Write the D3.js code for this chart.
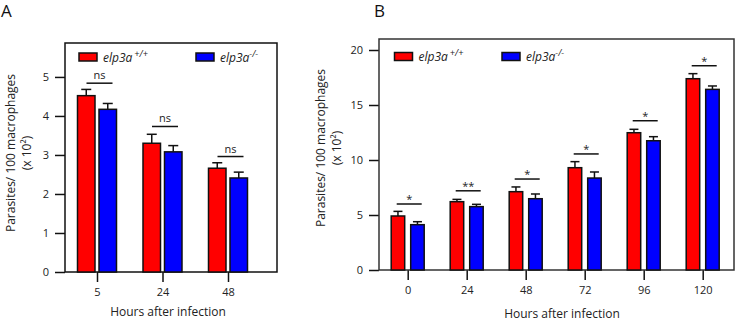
<!DOCTYPE html>
<html>
<head>
<meta charset="utf-8">
<script src="https://cdn.jsdelivr.net/npm/d3@7"></script>
<style>
  body { margin: 0; background: #fff; }
  svg { display: block; font-family: "Open Sans", sans-serif; }
</style>
</head>
<body>
<script>
var w = 735;
var h = 321;

// ---- panel A data ----
var catsA = ["5", "24", "48"];
var wtA = [4.52, 3.30, 2.66];
var wtErrA = [0.16, 0.23, 0.14];
var koA = [4.17, 3.08, 2.41];
var koErrA = [0.15, 0.16, 0.15];
var sigA = ["ns", "ns", "ns"];
var sigLevelA = [4.84, 3.73, 2.96];
var ticksA = [0, 1, 2, 3, 4, 5];

// ---- panel B data ----
var catsB = ["0", "24", "48", "72", "96", "120"];
var wtB = [4.91, 6.21, 7.12, 9.30, 12.48, 17.39];
var wtErrB = [0.42, 0.21, 0.43, 0.55, 0.31, 0.46];
var koB = [4.12, 5.76, 6.48, 8.36, 11.75, 16.42];
var koErrB = [0.27, 0.21, 0.43, 0.55, 0.37, 0.31];
var sigB = ["*", "**", "*", "*", "*", "*"];
var sigLevelB = [6.0, 7.2, 8.27, 10.55, 13.57, 18.57];
var ticksB = [0, 5, 10, 15, 20];

var svg = d3.select("body").append("svg")
    .attr("width", w)
    .attr("height", h);

drawPanel({
    label: "A", labelX: 1, labelY: 17,
    left: 65, right: 277, top: 43, bottom: 272,
    yMax: 5.87, xFirst: 97, xLast: 228,
    barW: 17.5, redOff: -19.5, blueOff: 2, capW: 10, sigOff: 2.5, sigW: 26,
    cats: catsA, wt: wtA, wtErr: wtErrA, ko: koA, koErr: koErrA,
    sig: sigA, sigLevel: sigLevelA, ticks: ticksA,
    legRedX: 79, legBlueX: 196, legY: 53,
    titleX: 15, titleY: 153, xTitleX: 168, xTitleY: 316,
    frame: "#111"
});

drawPanel({
    label: "B", labelX: 374, labelY: 17,
    left: 379, right: 734, top: 39, bottom: 270,
    yMax: 21, xFirst: 407.7, xLast: 702.7,
    barW: 13.5, redOff: -16.5, blueOff: 3, capW: 9, sigOff: 1.5, sigW: 25,
    cats: catsB, wt: wtB, wtErr: wtErrB, ko: koB, koErr: koErrB,
    sig: sigB, sigLevel: sigLevelB, ticks: ticksB,
    legRedX: 394.5, legBlueX: 502, legY: 52.5,
    titleX: 325, titleY: 148, xTitleX: 562, xTitleY: 317.5,
    frame: "#333"
});

function drawPanel(p) {
    var g = svg.append("g");

    var x = d3.scalePoint()
        .domain(p.cats)
        .range([p.xFirst, p.xLast]);
    var y = d3.scaleLinear()
        .domain([0, p.yMax])
        .range([p.bottom, p.top]);

    // panel letter
    g.append("text")
        .text(p.label)
        .attr("x", p.labelX)
        .attr("y", p.labelY)
        .attr("font-size", 17)
        .attr("fill", "#111");

    // y axis
    var yAxis = g.append("g")
        .attr("transform", "translate(" + p.left + ",0)")
        .call(d3.axisLeft(y).tickValues(p.ticks).tickFormat(d3.format("d"))
            .tickSize(10).tickPadding(6));
    yAxis.select(".domain").remove();
    yAxis.selectAll("line").attr("stroke", "#111").attr("stroke-width", 1.5);
    yAxis.selectAll("text").attr("font-size", 11).attr("fill", "#222")
        .attr("font-family", "Open Sans");

    // x axis
    var xAxis = g.append("g")
        .attr("transform", "translate(0," + p.bottom + ")")
        .call(d3.axisBottom(x).tickSize(10).tickPadding(6));
    xAxis.select(".domain").remove();
    xAxis.selectAll("line").attr("stroke", "#111").attr("stroke-width", 1.5);
    xAxis.selectAll("text").attr("font-size", 11).attr("fill", "#222")
        .attr("font-family", "Open Sans");

    // frame
    g.append("rect")
        .attr("x", p.left)
        .attr("y", p.top)
        .attr("width", p.right - p.left)
        .attr("height", p.bottom - p.top)
        .attr("fill", "none")
        .attr("stroke", p.frame)
        .attr("stroke-width", 1.5);

    var series = [
        {vals: p.wt, errs: p.wtErr, off: p.redOff, color: "#ff0000"},
        {vals: p.ko, errs: p.koErr, off: p.blueOff, color: "#0000ff"}
    ];

    series.forEach(function (s) {
        var rows = p.cats.map(function (c, i) {
            return {cat: c, v: s.vals[i], e: s.errs[i]};
        });
        var bg = g.append("g");
        // error bars
        bg.selectAll("line.err")
            .data(rows)
            .enter().append("line")
            .attr("x1", function (d) { return x(d.cat) + s.off + p.barW / 2; })
            .attr("x2", function (d) { return x(d.cat) + s.off + p.barW / 2; })
            .attr("y1", function (d) { return y(d.v); })
            .attr("y2", function (d) { return y(d.v + d.e); })
            .attr("stroke", "#111")
            .attr("stroke-width", 1.5);
        bg.selectAll("line.cap")
            .data(rows)
            .enter().append("line")
            .attr("x1", function (d) { return x(d.cat) + s.off + p.barW / 2 - p.capW / 2; })
            .attr("x2", function (d) { return x(d.cat) + s.off + p.barW / 2 + p.capW / 2; })
            .attr("y1", function (d) { return y(d.v + d.e); })
            .attr("y2", function (d) { return y(d.v + d.e); })
            .attr("stroke", "#111")
            .attr("stroke-width", 1.5);
        // bars
        bg.selectAll("rect")
            .data(rows)
            .enter().append("rect")
            .attr("x", function (d) { return x(d.cat) + s.off; })
            .attr("y", function (d) { return y(d.v); })
            .attr("width", p.barW)
            .attr("height", function (d) { return y(0) - y(d.v); })
            .attr("fill", s.color)
            .attr("stroke", "#111")
            .attr("stroke-width", 1.5);
    });

    // significance lines
    var sigRows = p.cats.map(function (c, i) {
        return {cat: c, lvl: p.sigLevel[i], txt: p.sig[i]};
    });
    g.selectAll("line.sig")
        .data(sigRows)
        .enter().append("line")
        .attr("x1", function (d) { return x(d.cat) + p.sigOff - p.sigW / 2; })
        .attr("x2", function (d) { return x(d.cat) + p.sigOff + p.sigW / 2; })
        .attr("y1", function (d) { return y(d.lvl); })
        .attr("y2", function (d) { return y(d.lvl); })
        .attr("stroke", "#111")
        .attr("stroke-width", 1.5);
    g.selectAll("text.sig")
        .data(sigRows)
        .enter().append("text")
        .text(function (d) { return d.txt; })
        .attr("x", function (d) { return x(d.cat) + p.sigOff; })
        .attr("y", function (d) { return y(d.lvl) - (d.txt == "ns" ? 4 : 1); })
        .attr("text-anchor", "middle")
        .attr("font-size", 11)
        .attr("fill", "#222");

    // legend
    var legend = [
        {x: p.legRedX, color: "#ff0000", sup: "+/+"},
        {x: p.legBlueX, color: "#0000ff", sup: "-/-"}
    ];
    legend.forEach(function (l) {
        g.append("rect")
            .attr("x", l.x)
            .attr("y", p.legY)
            .attr("width", 18)
            .attr("height", 8)
            .attr("fill", l.color)
            .attr("stroke", "#111")
            .attr("stroke-width", 1.5);
        var t = g.append("text")
            .attr("x", l.x + 24)
            .attr("y", p.legY + 8.5)
            .attr("font-size", 12)
            .attr("font-style", "italic")
            .attr("fill", "#222");
        t.append("tspan").text("elp3a");
        t.append("tspan")
            .text(l.sup)
            .attr("dx", l.sup == "+/+" ? 2 : 0)
            .attr("dy", -5)
            .attr("font-size", 9);
    });

    // axis titles
    var yt = g.append("text")
        .attr("transform", "translate(" + p.titleX + "," + p.titleY + ") rotate(-90)")
        .attr("text-anchor", "middle")
        .attr("font-size", 12)
        .attr("fill", "#222");
    yt.append("tspan").attr("x", 0).attr("y", 0).text("Parasites/ 100 macrophages");
    yt.append("tspan").attr("x", 0).attr("y", 16).text("(x 10\u00b2)");

    g.append("text")
        .text("Hours after infection")
        .attr("x", p.xTitleX)
        .attr("y", p.xTitleY)
        .attr("text-anchor", "middle")
        .attr("font-size", 12)
        .attr("fill", "#222");
}
</script>
</body>
</html>
